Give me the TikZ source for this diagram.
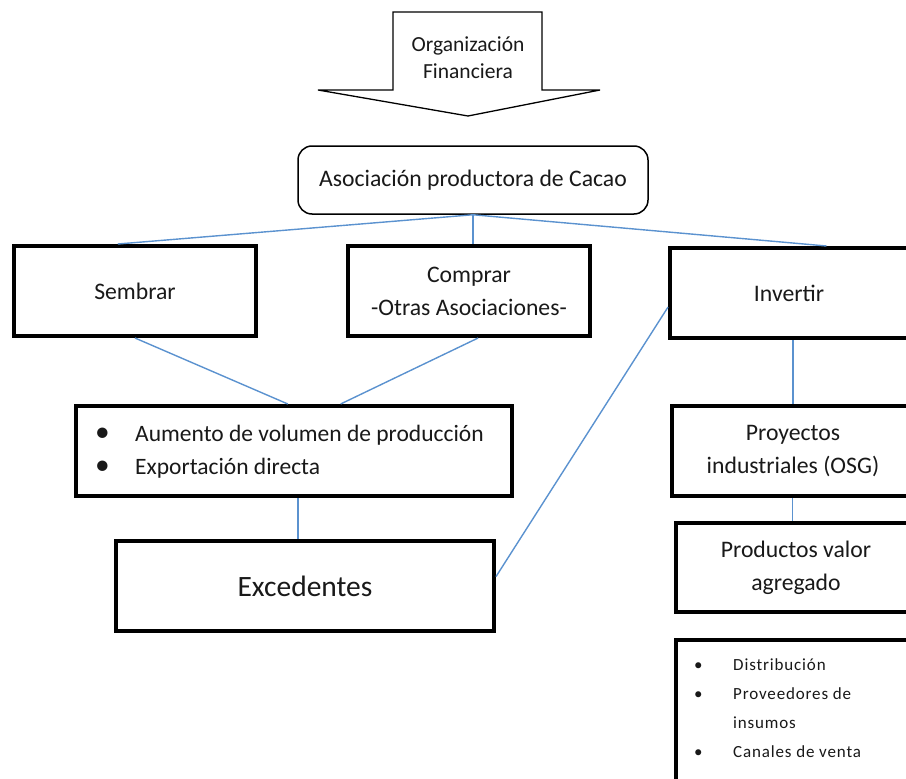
\documentclass[tikz,border=0pt]{standalone}
\usepackage{fontspec}
\setmainfont{Carlito}
\newfontfamily\listfont[LetterSpace=5]{Carlito}
\usetikzlibrary{calc}
\definecolor{conn}{RGB}{91,146,207}
\definecolor{txt}{RGB}{25,25,25}
\newcommand{\bigbul}{\raisebox{0.5pt}{\scalebox{1.25}{\textbullet}}}
\tikzset{
  box/.style={draw=black, line width=4pt, fill=white, inner sep=0pt, align=center,
    text=txt, font=\fontsize{23.7}{33}\selectfont},
  link/.style={draw=conn, line width=1.4pt},
  plain/.style={inner sep=0pt, text=txt}
}
\begin{document}
\begin{tikzpicture}[x=1pt,y=-1pt]
\useasboundingbox (0,0) rectangle (906,779);
% top block arrow
\draw[line width=1.3pt, fill=white] (393,12) -- (542,12) -- (542,90) -- (600,90) -- (468,116) -- (318,90) -- (393,90) -- cycle;
\node[plain, align=center, font=\fontsize{21.5}{27}\selectfont] (org) at (468,57.5) {Organización\\Financiera};
% main nodes
\node[box, line width=1.5pt, rounded corners=14pt, minimum width=350pt, minimum height=68pt] (asoc) at (473,180) {Asociación productora de Cacao};
\node[box, minimum width=242pt, minimum height=90pt] (sem) at (135,291) {Sembrar};
\node[box, minimum width=242pt, minimum height=90pt] (com) at (469,291) {Comprar\\-Otras Asociaciones-};
\node[box, minimum width=238pt, minimum height=90pt] (inv) at (789,293) {Invertir};
\node[box, minimum width=436pt, minimum height=90pt] (bul) at (294,451) {};
\node[plain, anchor=west, font=\fontsize{23.5}{33}\selectfont] (bultxt) at (95,451.5)
  {\begin{tabular}{@{}p{40pt}@{}l@{}}\bigbul & Aumento de volumen de producción\\ \bigbul & Exportación directa\end{tabular}};
\node[box, minimum width=378pt, minimum height=90pt, font=\fontsize{29.5}{36}\selectfont] (exc) at (305,586) {Excedentes};
\node[box, minimum width=242pt, minimum height=90pt] (pro) at (793,451) {Proyectos\\industriales (OSG)};
\node[box, minimum width=240pt, minimum height=89pt] (prod) at (796,567.5) {Productos valor\\agregado};
\node[box, minimum width=254pt, minimum height=160pt] (lstbox) at (803,720) {};
\node[plain, anchor=north west, font=\listfont\fontsize{17}{29}\selectfont] (lst) at (694,650)
  {\begin{tabular}{@{}p{39pt}@{}l@{}}\textbullet & Distribución\\ \textbullet & Proveedores de\\ & insumos\\ \textbullet & Canales de venta\end{tabular}};
% connectors
\coordinate (a0) at (asoc.south);
\draw[link] (a0) -- ($(sem.north west)!0.43!(sem.north east)$);
\draw[link] (a0) -- (a0 |- com.north);
\draw[link] (a0) -- ($(inv.north west)!0.655!(inv.north east)$);
\draw[link] (sem.south) -- ($(bul.north west)!0.486!(bul.north east)$);
\draw[link] ($(com.south west)!0.537!(com.south east)$) -- ($(bul.north west)!0.606!(bul.north east)$);
\coordinate (b0) at ($(bul.south west)!0.509!(bul.south east)$);
\draw[link] (b0) -- (b0 |- exc.north);
\draw[link] ($(exc.north east)!0.4!(exc.south east)$) -- ($(inv.north west)!0.65!(inv.south west)$);
\draw[link] (pro.north |- inv.south) -- (pro.north);
\coordinate (p0) at ($(pro.south west)!0.497!(pro.south east)$);
\draw[link] (p0) -- (p0 |- prod.north);
\end{tikzpicture}
\end{document}
